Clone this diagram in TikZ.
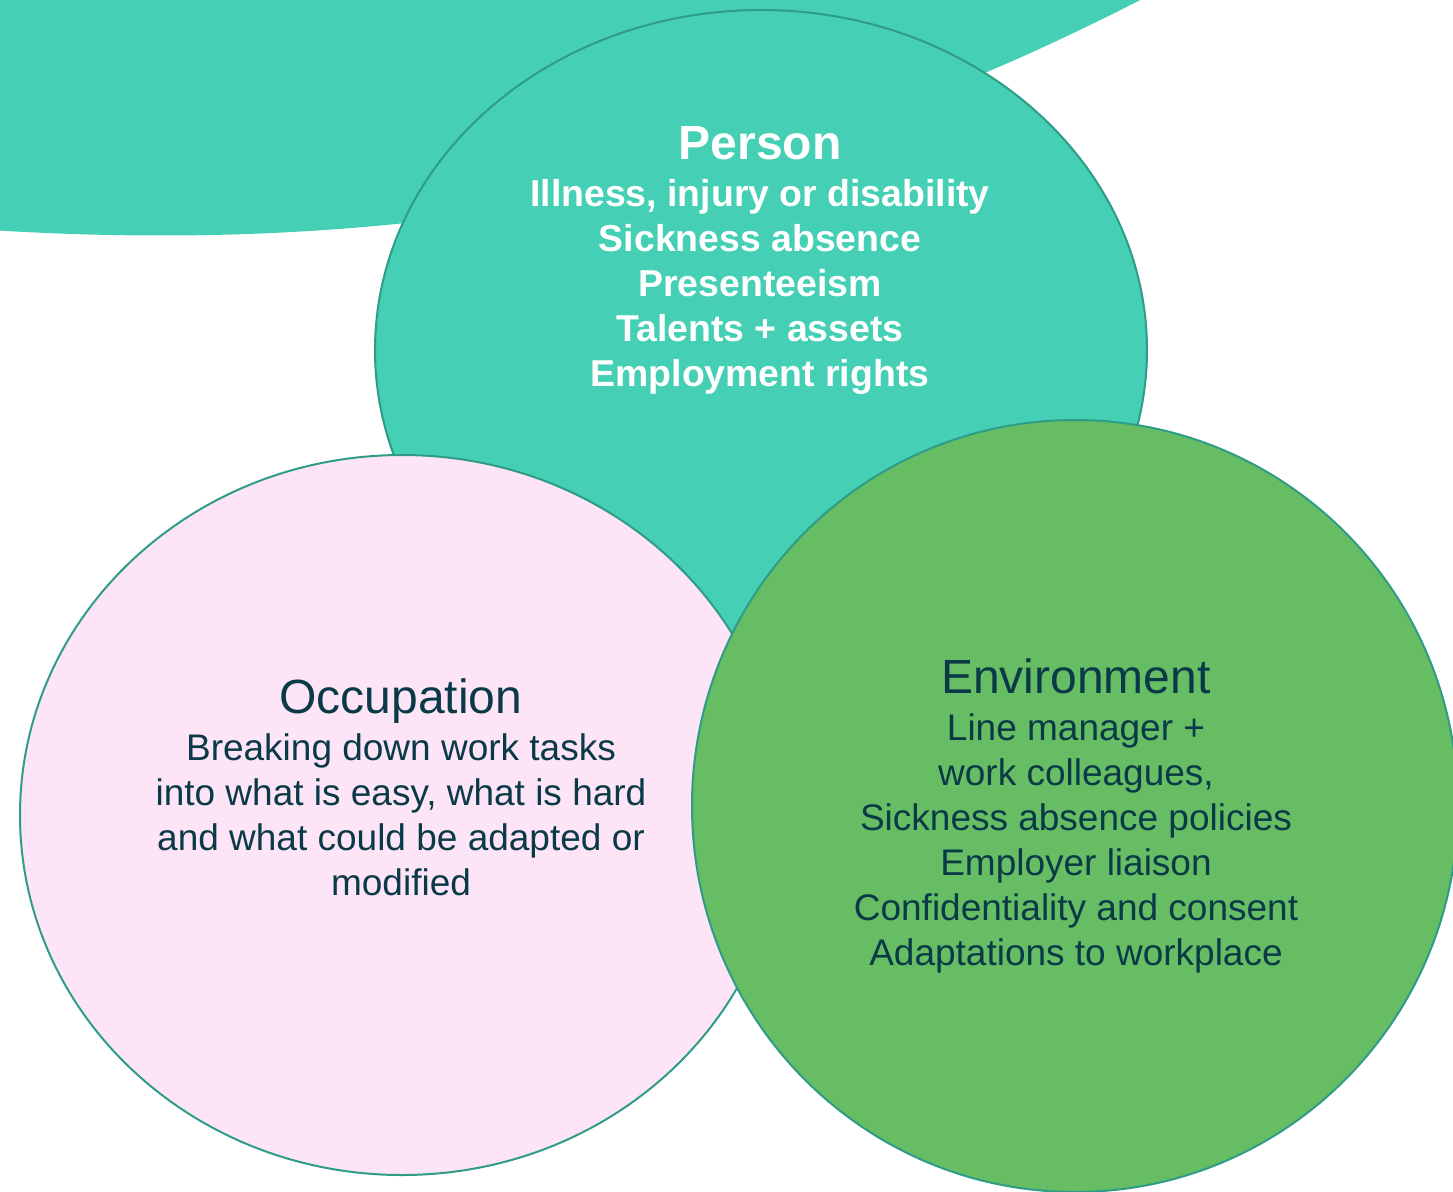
\documentclass[tikz,border=0pt]{standalone}
\usepackage{fontspec}
\setmainfont{Liberation Sans}
\usetikzlibrary{shapes.geometric}
\definecolor{personteal}{HTML}{45CFB5}
\definecolor{rim}{HTML}{2E9C86}
\definecolor{leaf}{HTML}{66BD63}
\definecolor{blush}{HTML}{FDE4F7}
\definecolor{ink}{HTML}{0A3A47}
\newcommand{\headsize}{\fontsize{24}{24}\selectfont}% title line
\tikzset{
  bubble/.style = {ellipse, draw=rim, line width=1pt, inner sep=0pt},
  bodytext/.style = {align=center, inner sep=0pt, anchor=north,
    font=\fontsize{18.5}{22.5}\selectfont}% body text
}
\begin{document}
\begin{tikzpicture}[x=0.5pt,y=-0.5pt]
\useasboundingbox (0,0) rectangle (1453,1191);
\begin{scope}
\clip (0,0) rectangle (1453,1191);
% big teal blob behind everything
\fill[personteal] (-10,230) .. controls (500,262) and (850,150) .. (1150,-5)
  -- (1150,-20) -- (-10,-20) -- cycle;
\node[bubble, fill=personteal, minimum width=386pt, minimum height=340pt] (person) at (761,350) {};
\node[bubble, fill=blush, minimum width=382pt, minimum height=360pt] (occupation) at (402,815) {};
\node[bubble, fill=leaf, minimum width=383pt, minimum height=386pt] (environment) at (1075,806) {};
\end{scope}
\node[bodytext, white, font=\bfseries\fontsize{18.7}{22.5}\selectfont] (persontext) at (760,126)
  {{\headsize Person}\\[1pt]
   Illness, injury or disability\\
   Sickness absence\\
   Presenteeism\\
   Talents + assets\\
   Employment rights};
\node[bodytext, text=ink] (occupationtext) at (401,678)
  {{\headsize Occupation}\\[1pt]
   Breaking down work tasks\\
   into what is easy, what is hard\\
   and what could be adapted or\\
   modified};
\node[bodytext, text=ink] (environmenttext) at (1076,658)
  {{\headsize Environment}\\[1pt]
   Line manager +\\
   work colleagues,\\
   Sickness absence policies\\
   Employer liaison\\
   Confidentiality and consent\\
   Adaptations to workplace};
\end{tikzpicture}
\end{document}
